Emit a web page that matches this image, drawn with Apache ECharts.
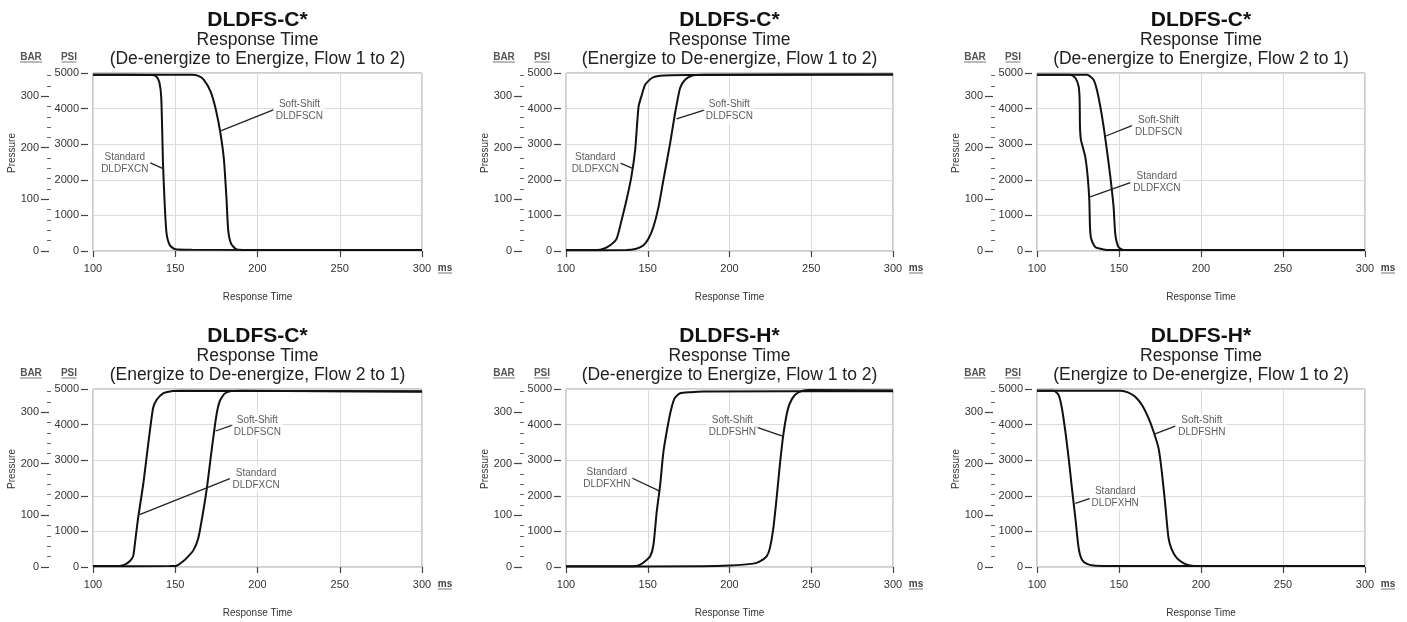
<!DOCTYPE html>
<html><head><meta charset="utf-8">
<script src="https://cdn.jsdelivr.net/npm/echarts@6/dist/echarts.min.js"></script>
<style>html,body{margin:0;padding:0;background:#fff}#c{width:1407px;height:622px}</style>
</head><body><div id="c"></div>
<script>
// ---------- text ----------
const panelTitles = ['DLDFS-C*', 'DLDFS-C*', 'DLDFS-C*', 'DLDFS-C*', 'DLDFS-H*', 'DLDFS-H*'];
const subTitle = 'Response Time';
const panelModes = [
  '(De-energize to Energize, Flow 1 to 2)',
  '(Energize to De-energize, Flow 1 to 2)',
  '(De-energize to Energize, Flow 2 to 1)',
  '(Energize to De-energize, Flow 2 to 1)',
  '(De-energize to Energize, Flow 1 to 2)',
  '(Energize to De-energize, Flow 1 to 2)'
];
const standardNames = ['DLDFXCN', 'DLDFXCN', 'DLDFXCN', 'DLDFXCN', 'DLDFXHN', 'DLDFXHN'];
const softNames = ['DLDFSCN', 'DLDFSCN', 'DLDFSCN', 'DLDFSCN', 'DLDFSHN', 'DLDFSHN'];
const xName = 'Response Time';
const yName = 'Pressure';

// ---------- axes ----------
const xMin = 100, xMax = 300, xStep = 50;
const psiMin = 0, psiMax = 5000, psiStep = 1000;
const psiPerBar = 14.5038;
const barMajorTicks = [0, 100, 200, 300];
const barMinorTicks = [20, 40, 60, 80, 120, 140, 160, 180, 220, 240, 260, 280, 320, 340];

// ---------- series (ms, psi) ----------
const std1 = [[100,4950],[136,4945],[138.5,4900],[140.3,4750],[141.5,4300],[142.6,2400],[143.6,1300],[144.7,500],[146.7,160],[150,50],[160,35],[300,25]];
const soft1 = [[100,4950],[160,4950],[164,4920],[167.4,4810],[171.5,4480],[174.7,3970],[177.5,3300],[179.6,2560],[181.2,1430],[182.2,580],[184,200],[187,50],[191,30],[300,25]];

const std2 = [[100,30],[119,30],[123,65],[127,160],[131,350],[134,865],[137,1430],[140,2090],[142.3,2840],[144.4,4060],[146.4,4390],[148.4,4670],[152.5,4860],[157.6,4925],[175,4945],[300,4955]];
const soft2 = [[100,20],[137,25],[143,65],[147.4,160],[150.5,350],[153.5,680],[156.6,1240],[159.6,2000],[163.7,3030],[166.7,3870],[169.8,4580],[172.8,4810],[176.9,4925],[184,4950],[300,4960]];

const std3 = [[100,4950],[120.3,4950],[123.4,4860],[125.4,4620],[126,4250],[126.2,3500],[126.8,3120],[129.4,2650],[130.9,2090],[131.9,1430],[132.3,680],[133,350],[135.5,110],[140.6,40],[144.7,25],[300,25]];
const soft3 = [[100,4950],[130.5,4950],[134.5,4810],[136.5,4530],[138.6,4060],[140.6,3500],[142.6,2840],[144.7,2090],[146.7,1240],[147.7,490],[149.7,110],[152.8,25],[300,25]];

const std4 = [[100,30],[116.2,30],[119.3,65],[122.3,160],[124.4,300],[125.4,625],[127.4,1370],[130.5,2310],[133.5,3430],[136.5,4460],[138.6,4690],[142.6,4880],[147.7,4940],[152.8,4950],[300,4940]];
const soft4 = [[100,20],[146.7,25],[150.8,35],[154.8,160],[157.9,300],[160.9,460],[164,810],[167,1560],[169.5,2310],[172,3240],[175,4250],[177,4650],[180,4870],[184,4940],[190,4950],[300,4920]];

const std5 = [[100,20],[141.3,20],[145.4,65],[148.4,160],[151.5,300],[153.5,625],[155.5,1560],[157.6,2310],[159.6,3240],[162.7,4080],[164.7,4500],[166.7,4760],[169.8,4880],[175.9,4910],[184,4930],[300,4940]];
const soft5 = [[100,15],[184,18],[200.3,40],[214.5,95],[218.6,160],[222.7,300],[224.7,530],[226.8,1090],[228.8,1930],[230.8,2870],[232.9,3710],[234.9,4270],[236.9,4600],[240,4830],[244,4940],[249.1,4970],[300,4960]];

const std6 = [[100,4950],[110.2,4950],[113.2,4830],[115.2,4460],[117.3,3800],[119.3,3060],[121.3,2210],[123.4,1370],[125.4,530],[127.4,205],[130.5,85],[134.5,40],[140.6,30],[300,30]];
const soft6 = [[100,4950],[150.8,4950],[155.8,4900],[159.9,4780],[164,4550],[168,4180],[171.1,3800],[174.1,3340],[176.1,2680],[178.2,1750],[180.2,810],[182.2,490],[185.3,250],[189.3,110],[193.4,40],[199.5,25],[300,25]];

const standardSeries = [std1, std2, std3, std4, std5, std6];
const softSeries = [soft1, soft2, soft3, soft4, soft5, soft6];

// ---------- callouts (data coords: ms, psi) ----------
const stdLabelAt = [[119.3,2460],[117.9,2460],[173.1,1945],[199.1,2476],[125,2500],[147.7,1958]];
const stdLeader = [[[134.5,2480],[142.3,2320]], [[132.6,2480],[140.7,2320]], [[156.9,1920],[132.4,1520]], [[183.2,2480],[128.3,1470]], [[140.3,2500],[157,2140]], [[132.5,1930],[123.3,1790]]];
const softLabelAt = [[225.5,3960],[199.9,3952],[174.1,3510],[199.9,3958],[201.7,3940],[200.5,3958]];
const softLeader = [[[209.6,3965],[178,3380]], [[185,3965],[167.6,3710]], [[157.9,3520],[142,3230]], [[185.3,3990],[174.5,3820]], [[215.6,3940],[233.3,3660]], [[184.3,3960],[171.6,3730]]];

// ---------- layout ----------
const FONT = '"Liberation Sans", Arial, Helvetica, sans-serif';
const cols = [{left: 93, width: 329}, {left: 566, width: 327}, {left: 1037, width: 328}];
const rows = [{top: 73, height: 178}, {top: 389, height: 178}];

const grids = [], xAxes = [], yAxes = [], series = [], graphics = [];
const ink = '#111', tickColor = '#444', labelColor = '#333', gridLineColor = '#dadada';
const plain = (v) => String(v);

for (let i = 0; i < 6; i++) {
  const c = cols[i % 3], r = rows[Math.floor(i / 3)];
  grids.push({left: c.left, top: r.top, width: c.width, height: r.height, show: true,
    borderColor: '#9a9a9a', borderWidth: 1, backgroundColor: 'transparent'});
  xAxes.push({gridIndex: i, type: 'value', min: xMin, max: xMax, interval: xStep, offset: 4,
    axisLine: {show: false},
    axisTick: {show: true, length: 6, lineStyle: {color: tickColor, width: 1.2}},
    axisLabel: {margin: 8, fontSize: 11, color: labelColor, fontFamily: FONT, formatter: plain},
    splitLine: {show: true, lineStyle: {color: gridLineColor, width: 1}},
    name: xName, nameLocation: 'middle', nameGap: 37,
    nameTextStyle: {fontSize: 10, color: labelColor, fontFamily: FONT}});
  // PSI axis
  yAxes.push({gridIndex: i, type: 'value', min: psiMin, max: psiMax, interval: psiStep, position: 'left', offset: 5,
    axisLine: {show: false},
    axisTick: {show: true, length: 7, lineStyle: {color: tickColor, width: 1.2}},
    axisLabel: {margin: 9, fontSize: 11, color: labelColor, fontFamily: FONT, formatter: plain},
    splitLine: {show: true, lineStyle: {color: gridLineColor, width: 1}}});
  // BAR axis, major
  yAxes.push({gridIndex: i, type: 'value', min: 0, max: psiMax / psiPerBar, position: 'left', offset: 44,
    axisLine: {show: false},
    axisTick: {show: true, length: 8, customValues: barMajorTicks, lineStyle: {color: tickColor, width: 1.2}},
    axisLabel: {margin: 10, fontSize: 11, color: labelColor, fontFamily: FONT, customValues: barMajorTicks, formatter: plain},
    splitLine: {show: false}});
  // BAR axis, minor
  yAxes.push({gridIndex: i, type: 'value', min: 0, max: psiMax / psiPerBar, position: 'left', offset: 42,
    axisLine: {show: false},
    axisTick: {show: true, length: 4, customValues: barMinorTicks, lineStyle: {color: '#666', width: 1}},
    axisLabel: {show: false},
    splitLine: {show: false}});

  const leaderStyle = {color: '#222', width: 1.3, type: 'solid'};
  const mk = (seg) => ({silent: true, symbol: 'none', animation: false, label: {show: false},
    lineStyle: leaderStyle, emphasis: {disabled: true},
    data: [[{coord: seg[0]}, {coord: seg[1]}]]});
  const lineCommon = {type: 'line', xAxisIndex: i, yAxisIndex: 3 * i, symbol: 'none', showSymbol: false,
    smooth: 0.2, lineStyle: {color: ink, width: 2}, silent: true, animation: false, z: 3};
  series.push(Object.assign({}, lineCommon, {name: 'Standard ' + standardNames[i], data: standardSeries[i], markLine: mk(stdLeader[i])}));
  series.push(Object.assign({}, lineCommon, {name: 'Soft-Shift ' + softNames[i], data: softSeries[i], markLine: mk(softLeader[i])}));
  const lbl = (t) => ({show: true, position: 'inside', formatter: t, fontSize: 10, lineHeight: 12,
    color: '#333', fontFamily: FONT, align: 'center', verticalAlign: 'middle',
    backgroundColor: '#fff', padding: [1, 2]});
  series.push({type: 'scatter', xAxisIndex: i, yAxisIndex: 3 * i, symbolSize: 0.1, silent: true, animation: false,
    itemStyle: {color: 'transparent'}, z: 5,
    data: [
      {value: stdLabelAt[i], label: lbl('Standard\n' + standardNames[i])},
      {value: softLabelAt[i], label: lbl('Soft-Shift\n' + softNames[i])}
    ]});

  // titles
  const cx = c.left + c.width / 2, dy = r.top - 73;
  graphics.push({type: 'text', x: cx, y: 20 + dy, silent: true,
    style: {text: panelTitles[i], font: 'bold 21px ' + FONT, fill: '#111', textAlign: 'center', textVerticalAlign: 'middle'}});
  graphics.push({type: 'text', x: cx, y: 40.5 + dy, silent: true,
    style: {text: subTitle, font: '17.5px ' + FONT, fill: '#222', textAlign: 'center', textVerticalAlign: 'middle'}});
  graphics.push({type: 'text', x: cx, y: 59 + dy, silent: true,
    style: {text: panelModes[i], font: '17.5px ' + FONT, fill: '#222', textAlign: 'center', textVerticalAlign: 'middle'}});
  // unit headers
  const units = [['BAR', c.left - 62, 22], ['PSI', c.left - 24, 15]];
  units.forEach(([t, ux, w]) => {
    graphics.push({type: 'text', x: ux, y: 57 + dy, silent: true,
      style: {text: t, font: 'bold 10px ' + FONT, fill: '#555', textAlign: 'center', textVerticalAlign: 'middle'}});
    graphics.push({type: 'line', silent: true, shape: {x1: ux - w / 2, y1: 62 + dy, x2: ux + w / 2, y2: 62 + dy},
      style: {stroke: '#777', lineWidth: 1}});
  });
  // ms
  const msx = c.left + c.width + 23;
  graphics.push({type: 'text', x: msx, y: r.top + r.height + 17, silent: true,
    style: {text: 'ms', font: 'bold 10px ' + FONT, fill: '#444', textAlign: 'center', textVerticalAlign: 'middle'}});
  graphics.push({type: 'line', silent: true, shape: {x1: msx - 7, y1: r.top + r.height + 22, x2: msx + 7, y2: r.top + r.height + 22},
    style: {stroke: '#777', lineWidth: 1}});
  // Pressure
  graphics.push({type: 'text', x: c.left - 81, y: r.top + 80, rotation: Math.PI / 2, silent: true,
    style: {text: yName, font: '10px ' + FONT, fill: '#333', textAlign: 'center', textVerticalAlign: 'middle'}});
}

const chart = echarts.init(document.getElementById('c'), null, {renderer: 'canvas'});
chart.setOption({
  animation: false,
  backgroundColor: '#fff',
  textStyle: {fontFamily: FONT},
  grid: grids, xAxis: xAxes, yAxis: yAxes, series: series, graphic: graphics
});
</script>
</body></html>
